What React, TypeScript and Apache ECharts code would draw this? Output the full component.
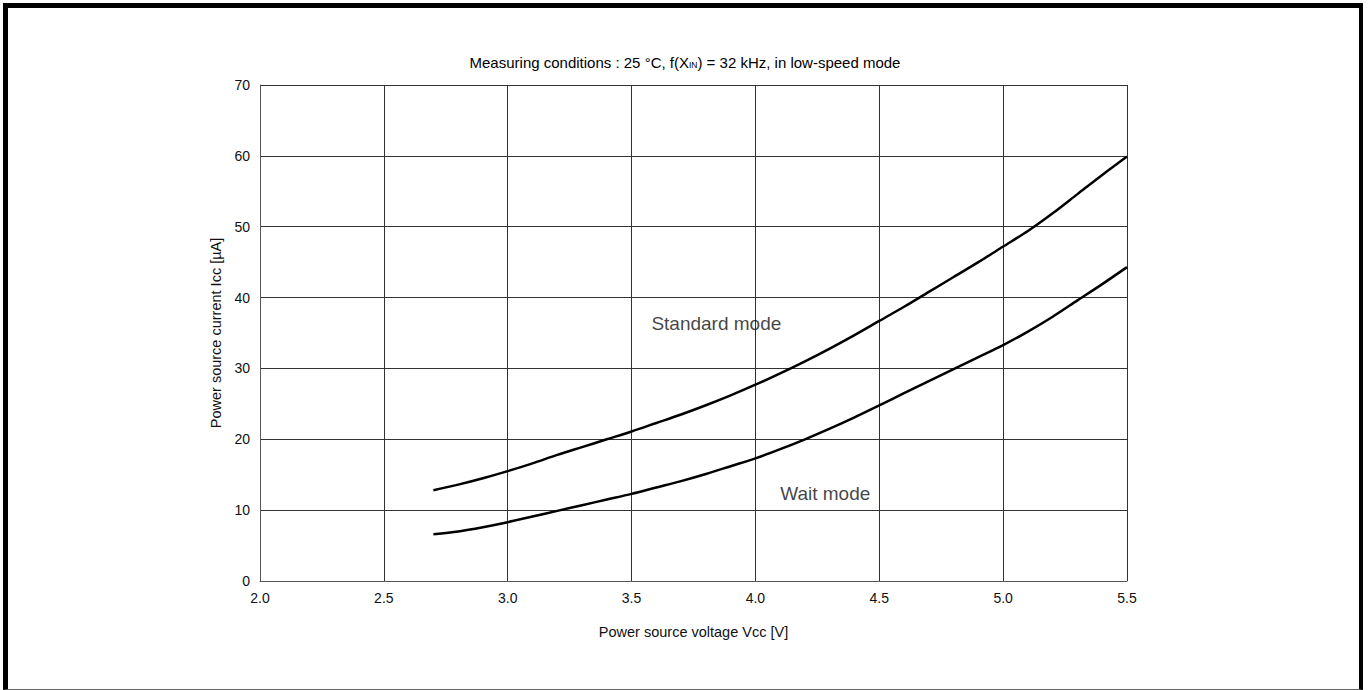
import React, { useEffect, useRef } from "react";
import * as echarts from "echarts";

const voltages = [2.7, 2.8, 2.9, 3.0, 3.1, 3.2, 3.3, 3.4, 3.5, 3.6, 3.7, 3.8, 3.9, 4.0, 4.1, 4.2, 4.3, 4.4, 4.5, 4.6, 4.7, 4.8, 4.9, 5.0, 5.1, 5.2, 5.3, 5.4, 5.5];
const standardMode = [12.8, 13.6, 14.5, 15.5, 16.6, 17.8, 18.9, 20.0, 21.1, 22.3, 23.5, 24.8, 26.2, 27.7, 29.3, 31.0, 32.8, 34.7, 36.7, 38.7, 40.8, 42.9, 45.0, 47.2, 49.4, 51.9, 54.6, 57.3, 59.9];
const waitMode = [6.6, 7.0, 7.6, 8.3, 9.1, 9.9, 10.7, 11.5, 12.3, 13.2, 14.1, 15.1, 16.2, 17.3, 18.6, 20.0, 21.5, 23.1, 24.8, 26.5, 28.2, 29.9, 31.6, 33.3, 35.2, 37.3, 39.6, 41.9, 44.3];
const curveLabels = [
  { name: "Standard mode", at: [3.58, 36.3] },
  { name: "Wait mode", at: [4.1, 12.4] },
];
const titleText = "Measuring conditions : 25 °C, f(X{s|IN}) = 32 kHz, in low-speed mode";
const xTitle = "Power source voltage Vcc [V]";
const yTitle = "Power source current Icc [µA]";

const FONT = "'Liberation Sans', Arial, sans-serif";

export default function App() {
  const ref = useRef<HTMLDivElement>(null);
  useEffect(() => {
    if (!ref.current) return;
    const chart = echarts.init(ref.current, null, { renderer: "svg" });
    chart.setOption({
      animation: false,
      backgroundColor: "#fff",
      textStyle: { fontFamily: FONT },
      title: {
        text: titleText,
        left: "center",
        top: 50,
        textStyle: {
          fontFamily: FONT,
          fontSize: 15,
          fontWeight: "normal",
          color: "#000",
          rich: { s: { fontSize: 8.5, fontFamily: FONT, color: "#000", padding: [5, 0, 0, 0] } },
        },
      },
      grid: { left: 260, right: 243, top: 85, bottom: 109 },
      xAxis: {
        type: "value",
        min: 2.0,
        max: 5.5,
        interval: 0.5,
        name: xTitle,
        nameLocation: "middle",
        nameGap: 43,
        nameTextStyle: { fontSize: 14.5, color: "#111", fontFamily: FONT },
        axisLine: { show: true, lineStyle: { color: "#555", width: 1 } },
        axisTick: { show: false },
        axisLabel: {
          fontSize: 14,
          color: "#111",
          margin: 10,
          fontFamily: FONT,
          formatter: (v: number) => v.toFixed(1),
        },
        splitLine: { show: true, lineStyle: { color: "#333", width: 1 } },
      },
      yAxis: {
        type: "value",
        min: 0,
        max: 70,
        interval: 10,
        name: yTitle,
        nameLocation: "middle",
        nameGap: 34,
        nameTextStyle: { fontSize: 14.5, color: "#111", fontFamily: FONT },
        axisLine: { show: true, lineStyle: { color: "#555", width: 1 } },
        axisTick: { show: false },
        axisLabel: { fontSize: 14, color: "#111", margin: 10, fontFamily: FONT },
        splitLine: { show: true, lineStyle: { color: "#333", width: 1 } },
      },
      series: [
        {
          name: "Standard mode",
          type: "line",
          data: voltages.map((v, i) => [v, standardMode[i]]),
          showSymbol: false,
          smooth: 0.3,
          lineStyle: { color: "#000", width: 2.5 },
          z: 5,
        },
        {
          name: "Wait mode",
          type: "line",
          data: voltages.map((v, i) => [v, waitMode[i]]),
          showSymbol: false,
          smooth: 0.3,
          lineStyle: { color: "#000", width: 2.5 },
          z: 5,
        },
        {
          type: "scatter",
          symbolSize: 0,
          silent: true,
          z: 6,
          data: curveLabels.map((l) => ({ value: l.at, name: l.name })),
          label: {
            show: true,
            position: "right",
            distance: 0,
            formatter: (p: any) => p.name,
            fontSize: 19,
            color: "#111",
            fontFamily: FONT,
          },
        },
      ],
    });
    return () => chart.dispose();
  }, []);
  return (
    <div style={{ position: "fixed", left: 0, top: 0, width: 1370, height: 690, background: "#fff" }}>
      <div ref={ref} style={{ position: "absolute", left: 0, top: 0, width: 1370, height: 690 }} />
      <div
        style={{
          position: "absolute",
          left: 3,
          top: 3,
          width: 1351,
          height: 681,
          borderTop: "5px solid #000",
          borderLeft: "5px solid #000",
          borderRight: "4px solid #000",
          borderBottom: "1px solid #666",
          pointerEvents: "none",
        }}
      />
    </div>
  );
}
